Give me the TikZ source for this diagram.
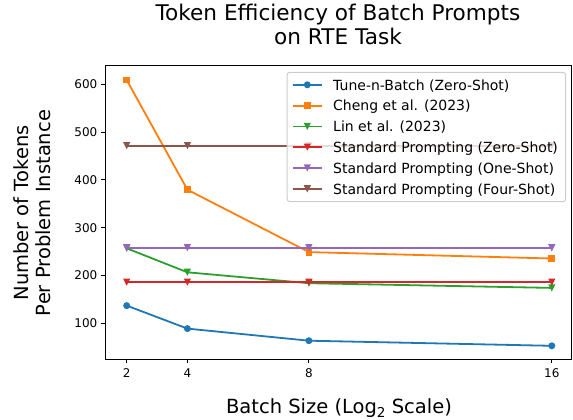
\documentclass[tikz,border=0pt]{standalone}
\usepackage{fontspec}
\setmainfont{DejaVu Sans}
\definecolor{cA}{HTML}{1F77B4}
\definecolor{cB}{HTML}{FF7F0E}
\definecolor{cC}{HTML}{2CA02C}
\definecolor{cD}{HTML}{D62728}
\definecolor{cE}{HTML}{9467BD}
\definecolor{cF}{HTML}{8C564B}
\definecolor{legedge}{HTML}{CCCCCC}
\newcommand\tridn[2]{\fill[#1] (#2) ++(-3.6,-3.6) -- ++(7.2,0) -- ++(-3.6,7.2) -- cycle;}
\begin{document}
\begin{tikzpicture}[x=1pt,y=-1pt,
  ser/.style={line width=1.8pt, line join=round, draw=#1},
  dotmark/.style={circle, fill=#1, inner sep=0pt, minimum size=7pt},
  sqmark/.style={rectangle, fill=#1, inner sep=0pt, minimum size=6.8pt},
  ticklbl/.style={font=\fontsize{12}{14}\selectfont, inner sep=0pt},
  legtxt/.style={font=\fontsize{14}{17}\selectfont, anchor=base west, inner sep=0pt},
  bigtxt/.style={font=\fontsize{19.5}{23}\selectfont, inner sep=0pt},
  tick/.style={line width=0.9pt, draw=black},
]
\useasboundingbox (0,0) rectangle (573,420);

% ---------- title ----------
\node[font=\fontsize{21.6}{26}\selectfont, anchor=base, inner sep=0pt] (title1) at (338,20.7) {Token Efficiency of Batch Prompts};
\node[font=\fontsize{21.6}{26}\selectfont, anchor=base, inner sep=0pt] (title2) at (338,45) {on RTE Task};

% ---------- data points ----------
\coordinate (a1) at (126.7,305.6); \coordinate (a2) at (187.4,328.6); \coordinate (a3) at (308.9,340.7); \coordinate (a4) at (551.8,345.8);
\coordinate (b1) at (126.7,80.0);  \coordinate (b2) at (187.4,189.7); \coordinate (b3) at (308.9,252.1); \coordinate (b4) at (551.8,258.5);
\coordinate (c1) at (126.7,248.3); \coordinate (c2) at (187.4,272.3); \coordinate (c3) at (308.9,283.2); \coordinate (c4) at (551.8,287.9);
\coordinate (d1) at (126.7,282.2); \coordinate (d2) at (187.4,282.2); \coordinate (d3) at (308.9,282.2); \coordinate (d4) at (551.8,282.2);
\coordinate (e1) at (126.7,247.8); \coordinate (e2) at (187.4,247.8); \coordinate (e3) at (308.9,247.8); \coordinate (e4) at (551.8,247.8);
\coordinate (f1) at (126.7,145.7); \coordinate (f2) at (187.4,145.7); \coordinate (f3) at (308.9,145.7); \coordinate (f4) at (551.8,145.7);

% Tune-n-Batch
\draw[ser=cA] (a1) -- (a2) -- (a3) -- (a4);
\node[dotmark=cA] (ma1) at (a1) {}; \node[dotmark=cA] (ma2) at (a2) {};
\node[dotmark=cA] (ma3) at (a3) {}; \node[dotmark=cA] (ma4) at (a4) {};
% Cheng
\draw[ser=cB] (b1) -- (b2) -- (b3) -- (b4);
\node[sqmark=cB] (mb1) at (b1) {}; \node[sqmark=cB] (mb2) at (b2) {};
\node[sqmark=cB] (mb3) at (b3) {}; \node[sqmark=cB] (mb4) at (b4) {};
% Lin
\draw[ser=cC] (c1) -- (c2) -- (c3) -- (c4);
\foreach \p in {c1,c2,c3,c4} {\tridn{cC}{\p}}
% Standard zero-shot
\draw[ser=cD] (d1) -- (d2) -- (d3) -- (d4);
\foreach \p in {d1,d2,d3,d4} {\tridn{cD}{\p}}
% Standard one-shot
\draw[ser=cE] (e1) -- (e2) -- (e3) -- (e4);
\foreach \p in {e1,e2,e3,e4} {\tridn{cE}{\p}}
% Standard four-shot
\draw[ser=cF] (f1) -- (f2) -- (f3) -- (f4);
\foreach \p in {f1,f2,f3,f4} {\tridn{cF}{\p}}

% ---------- axes ----------
\draw[line width=1pt] (105,65.5) rectangle (571,359);
\foreach \yy/\lab in {323.3/100, 275.5/200, 227.7/300, 179.9/400, 132.1/500, 84.3/600} {
  \draw[tick] (101,\yy) -- (105,\yy);
  \node[ticklbl, anchor=base east] at (97.5,\yy+4.4) {\lab};
}
\foreach \xx/\lab in {126.7/2, 187.4/4, 308.9/8, 551.8/16} {
  \draw[tick] (\xx,359) -- (\xx,363);
  \node[ticklbl, anchor=base] at (\xx,377) {\lab};
}

% axis labels
\node[bigtxt, anchor=base] (xlab) at (339,413) {Batch Size (Log\raisebox{-0.22em}{\fontsize{13.6}{15}\selectfont 2} Scale)};
\node[bigtxt, anchor=base, rotate=90] (ylab1) at (28,213) {Number of Tokens};
\node[bigtxt, anchor=base, rotate=90] (ylab2) at (50.7,213) {Per Problem Instance};

% ---------- legend ----------
\draw[draw=legedge, fill=white, fill opacity=0.8, line width=1pt, rounded corners=3pt] (287,72.3) rectangle (565.7,201.7);
\foreach \i/\col/\lab in {0/cA/{Tune-n-Batch (Zero-Shot)}, 1/cB/{Cheng et al. (2023)}, 2/cC/{Lin et al. (2023)}, 3/cD/{Standard Prompting (Zero-Shot)}, 4/cE/{Standard Prompting (One-Shot)}, 5/cF/{Standard Prompting (Four-Shot)}} {
  \pgfmathsetmacro\ly{84.8+20.8*\i}
  \coordinate (l\i a) at (292.7,\ly); \coordinate (l\i b) at (322,\ly); \coordinate (l\i m) at (307.3,\ly);
  \draw[ser=\col] (l\i a) -- (l\i b);
  \node[legtxt] (lt\i) at (333,\ly+5.3) {\lab};
}
\node[dotmark=cA] (lm0) at (l0m) {};
\node[sqmark=cB] (lm1) at (l1m) {};
\tridn{cC}{l2m}
\tridn{cD}{l3m}
\tridn{cE}{l4m}
\tridn{cF}{l5m}
\end{tikzpicture}
\end{document}
